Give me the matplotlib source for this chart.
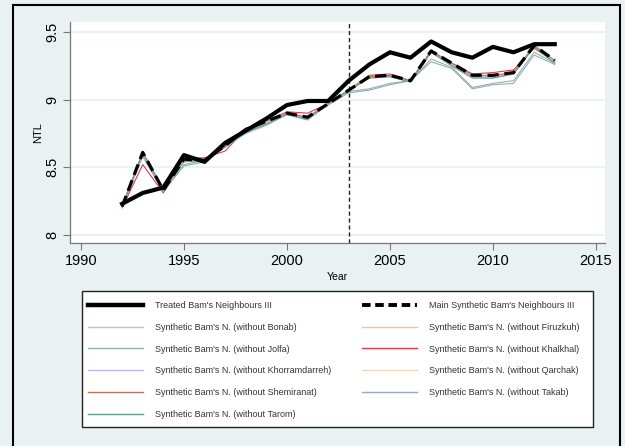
import matplotlib
matplotlib.use("Agg")
import matplotlib.pyplot as plt
from matplotlib.lines import Line2D
from matplotlib.patches import Rectangle

plt.rcParams['font.family'] = ['Liberation Sans', 'DejaVu Sans']

years = list(range(1992, 2014))
treated = [8.23, 8.31, 8.35, 8.59, 8.54, 8.68, 8.77, 8.86, 8.96, 8.99, 8.99,
           9.14, 9.26, 9.35, 9.31, 9.43, 9.35, 9.31, 9.39, 9.35, 9.41, 9.41]
main_synth = [8.21, 8.61, 8.33, 8.56, 8.55, 8.66, 8.78, 8.84, 8.90, 8.87, 8.97,
              9.07, 9.17, 9.18, 9.14, 9.36, 9.27, 9.18, 9.18, 9.20, 9.40, 9.29]
wo_bonab = [8.21, 8.60, 8.33, 8.55, 8.56, 8.66, 8.77, 8.83, 8.90, 8.86, 8.97,
            9.07, 9.16, 9.17, 9.13, 9.36, 9.26, 9.16, 9.16, 9.19, 9.40, 9.28]
wo_firuzkuh = [8.21, 8.60, 8.33, 8.56, 8.56, 8.67, 8.78, 8.84, 8.90, 8.87, 8.97,
               9.07, 9.16, 9.17, 9.14, 9.36, 9.26, 9.17, 9.17, 9.20, 9.39, 9.28]
wo_jolfa = [8.21, 8.59, 8.32, 8.52, 8.55, 8.65, 8.76, 8.82, 8.89, 8.86, 8.97,
            9.06, 9.08, 9.12, 9.14, 9.30, 9.24, 9.09, 9.12, 9.14, 9.35, 9.27]
wo_khalkhal = [8.20, 8.52, 8.31, 8.57, 8.57, 8.62, 8.78, 8.84, 8.91, 8.90, 8.97,
               9.07, 9.18, 9.19, 9.14, 9.36, 9.27, 9.19, 9.20, 9.22, 9.38, 9.28]
wo_khorram = [8.21, 8.60, 8.33, 8.55, 8.55, 8.66, 8.77, 8.84, 8.90, 8.87, 8.97,
              9.07, 9.17, 9.18, 9.14, 9.35, 9.26, 9.17, 9.17, 9.20, 9.39, 9.28]
wo_qarchak = [8.21, 8.60, 8.33, 8.55, 8.56, 8.66, 8.77, 8.83, 8.90, 8.87, 8.97,
              9.07, 9.16, 9.17, 9.14, 9.35, 9.25, 9.16, 9.16, 9.19, 9.39, 9.28]
wo_shemiranat = [8.21, 8.61, 8.33, 8.57, 8.56, 8.66, 8.78, 8.84, 8.90, 8.87, 8.97,
                 9.07, 9.17, 9.18, 9.14, 9.36, 9.27, 9.18, 9.18, 9.20, 9.40, 9.29]
wo_takab = [8.21, 8.58, 8.32, 8.51, 8.54, 8.65, 8.75, 8.81, 8.89, 8.86, 8.96,
            9.05, 9.07, 9.11, 9.14, 9.28, 9.23, 9.08, 9.11, 9.12, 9.33, 9.26]
wo_tarom = [8.21, 8.61, 8.34, 8.54, 8.55, 8.65, 8.76, 8.82, 8.89, 8.85, 8.97,
            9.07, 9.16, 9.17, 9.13, 9.35, 9.25, 9.16, 9.16, 9.19, 9.39, 9.27]

treatment_year = 2003
x_ticks = [1990, 1995, 2000, 2005, 2010, 2015]
y_ticks = [8, 8.5, 9, 9.5]
y_tick_labels = ["8", "8.5", "9", "9.5"]

placebos = [
    ("Synthetic Bam's N. (without Bonab)", wo_bonab, "#b9c6a2"),
    ("Synthetic Bam's N. (without Firuzkuh)", wo_firuzkuh, "#f3c58c"),
    ("Synthetic Bam's N. (without Jolfa)", wo_jolfa, "#8fb3a9"),
    ("Synthetic Bam's N. (without Khalkhal)", wo_khalkhal, "#e03a58"),
    ("Synthetic Bam's N. (without Khorramdarreh)", wo_khorram, "#bdb5e6"),
    ("Synthetic Bam's N. (without Qarchak)", wo_qarchak, "#e6dcb8"),
    ("Synthetic Bam's N. (without Shemiranat)", wo_shemiranat, "#bd7256"),
    ("Synthetic Bam's N. (without Takab)", wo_takab, "#98aac0"),
    ("Synthetic Bam's N. (without Tarom)", wo_tarom, "#5f9e95"),
]

bg = "#e9f1f3"
W, H = 625, 446
fig = plt.figure(figsize=(W / 100, H / 100), dpi=100, facecolor=bg)

ax = fig.add_axes([70 / W, 1 - 243 / H, 535 / W, 221 / H])
ax.set_facecolor("white")

handles = {}
for label, vals, col in placebos:
    h, = ax.plot(years, vals, color=col, lw=0.8, zorder=3)
    handles[label] = h
h_main, = ax.plot(years, main_synth, color="black", lw=2.3,
                  dashes=(3.5, 1.8), zorder=4)
h_tr, = ax.plot(years, treated, color="black", lw=3.0, zorder=5)

ax.axvline(treatment_year, color="#222222", lw=1.0, ls=(0, (3, 2)), zorder=2)

ax.set_xlim(1989.47, 2015.44)
ax.set_ylim(7.94, 9.574)
ax.set_xticks(x_ticks)
ax.set_yticks(y_ticks)
ax.set_yticklabels(y_tick_labels, rotation=90, va="center")
ax.tick_params(axis="both", labelsize=10.5, color="#777777", length=5,
               width=0.8, pad=3)
ax.grid(axis="y", color=bg, lw=1.3)
ax.set_axisbelow(True)
for s in ("top", "right"):
    ax.spines[s].set_visible(False)
for s in ("left", "bottom"):
    ax.spines[s].set_color("#777777")
    ax.spines[s].set_linewidth(0.9)

ax.set_xlabel("Year", fontsize=7.5, labelpad=3)
ax.set_ylabel("NTL", fontsize=8, labelpad=1)

order = [
    (h_tr, "Treated Bam's Neighbours III"),
    (handles[placebos[0][0]], placebos[0][0]),
    (handles[placebos[2][0]], placebos[2][0]),
    (handles[placebos[4][0]], placebos[4][0]),
    (handles[placebos[6][0]], placebos[6][0]),
    (handles[placebos[8][0]], placebos[8][0]),
    (h_main, "Main Synthetic Bam's Neighbours III"),
    (handles[placebos[1][0]], placebos[1][0]),
    (handles[placebos[3][0]], placebos[3][0]),
    (handles[placebos[5][0]], placebos[5][0]),
    (handles[placebos[7][0]], placebos[7][0]),
]
leg_handles = []
for h, lab in order:
    if h is h_main:
        leg_handles.append(Line2D([], [], color="black", lw=2.8,
                                  dashes=(2.2, 1.2)))
    elif h is h_tr:
        leg_handles.append(Line2D([], [], color="black", lw=3.2))
    else:
        leg_handles.append(Line2D([], [], color=h.get_color(), lw=1.0))

# legend box drawn separately so its extent is fixed
box = Rectangle((82 / W, 1 - 427 / H), 511 / W, 136 / H,
                transform=fig.transFigure, facecolor="white",
                edgecolor="#222222", lw=1.0, zorder=1)
fig.patches.append(box)

leg = fig.legend(leg_handles, [lab for _, lab in order], ncol=2,
                 loc="upper left",
                 bbox_to_anchor=(88 / W, 1 - 301 / H),
                 fontsize=6.5, handlelength=6.1, handletextpad=1.3,
                 labelspacing=1.42, columnspacing=3.4, borderpad=0,
                 borderaxespad=0, frameon=False)
leg.set_zorder(2)
for t in leg.get_texts():
    t.set_color("#333333")

frame = Rectangle((13 / W, -0.05), (620 - 13) / W, 1 - 5 / H + 0.05,
                  transform=fig.transFigure, fill=False, edgecolor="black",
                  lw=1.5, zorder=10)
fig.patches.append(frame)

fig.savefig("out.png", dpi=100, facecolor=bg)
